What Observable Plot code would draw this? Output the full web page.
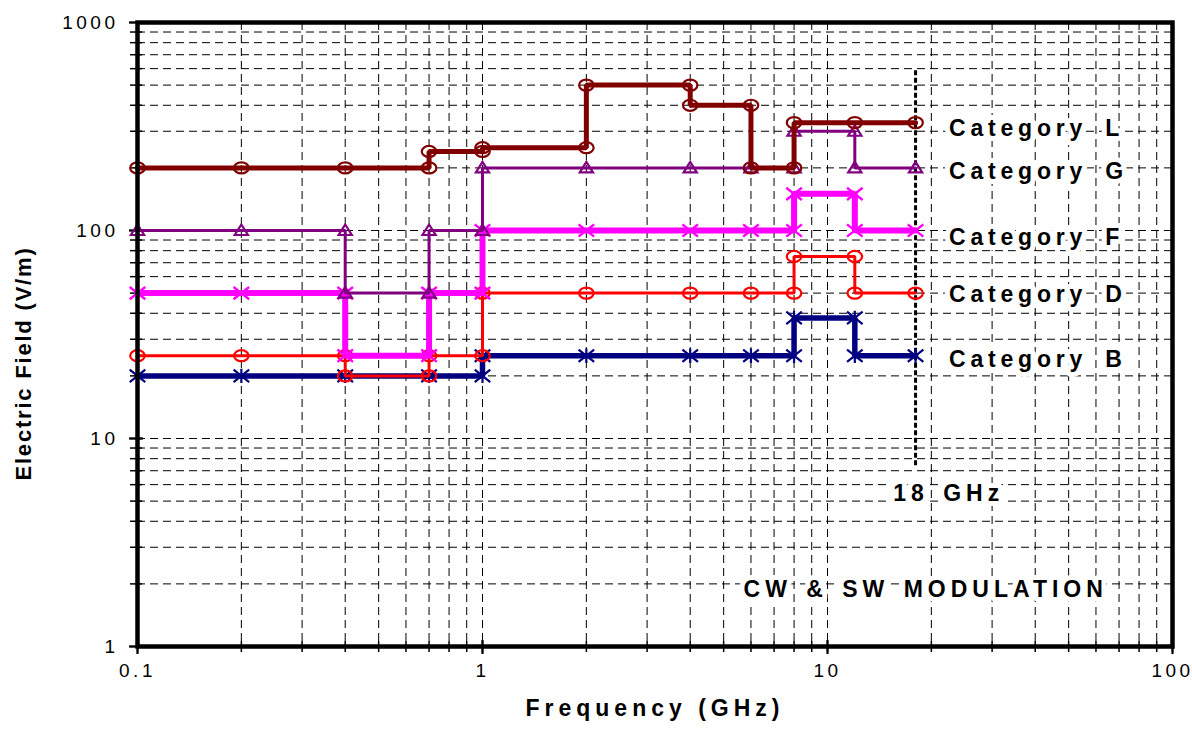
<!DOCTYPE html>
<html>
<head>
<meta charset="utf-8">
<script src="https://cdn.jsdelivr.net/npm/d3@7"></script>
<script src="https://cdn.jsdelivr.net/npm/@observablehq/plot@0.6"></script>
<style>
  body { margin: 0; background: #fff; }
  svg text { font-family: "Liberation Sans", Arial, sans-serif; }
</style>
</head>
<body>
<div id="chart"></div>
<script>
// ---- Data ----
const freqL  = [0.1, 0.2, 0.4, 0.7, 0.7, 1, 1, 2, 2, 4, 4, 6, 6, 8, 8, 12, 18];
const fieldL = [200, 200, 200, 200, 240, 240, 250, 250, 500, 500, 400, 400, 200, 200, 330, 330, 330];

const freqG  = [0.1, 0.2, 0.4, 0.4, 0.7, 0.7, 1, 1, 2, 4, 6, 8, 8, 12, 12, 18];
const fieldG = [100, 100, 100, 50, 50, 100, 100, 200, 200, 200, 200, 200, 300, 300, 200, 200];

const freqF  = [0.1, 0.2, 0.4, 0.4, 0.7, 0.7, 1, 1, 2, 4, 6, 8, 8, 12, 12, 18];
const fieldF = [50, 50, 50, 25, 25, 50, 50, 100, 100, 100, 100, 100, 150, 150, 100, 100];

const freqD  = [0.1, 0.2, 0.4, 0.4, 0.7, 0.7, 1, 1, 2, 4, 6, 8, 8, 12, 12, 18];
const fieldD = [25, 25, 25, 20, 20, 25, 25, 50, 50, 50, 50, 50, 75, 75, 50, 50];

const freqB  = [0.1, 0.2, 0.4, 0.7, 1, 1, 2, 4, 6, 8, 8, 12, 12, 18];
const fieldB = [20, 20, 20, 20, 20, 25, 25, 25, 25, 25, 38, 38, 25, 25];

const xTicks = [0.1, 1, 10, 100];
const xTickLabels = ["0.1", "1", "10", "100"];
const yTicks = [1, 10, 100, 1000];
const yTickLabels = ["1", "10", "100", "1000"];

const catNames = ["Category L", "Category G", "Category F", "Category D", "Category B"];
const catLabelX = [22.5, 22.5, 22.5, 22.5, 22.5];
const catLabelY = [308, 191, 92, 49, 24];

const limitFreq = 18;
const limitFieldRange = [7.4, 600];
const noteTexts = ["18 GHz", "CW & SW MODULATION"];
const noteX = [15.5, 5.71];
const noteY = [5.46, 1.87];

const xTitle = "Frequency (GHz)";
const yTitle = "Electric Field (V/m)";

// ---- Layout ----
const W = 1192, H = 729;
const mL = 137, mR = 20, mT = 22, mB = 83;
const plotW = W - mL - mR, plotH = H - mT - mB;

// ---- Marker symbols ----
const ellipse = {draw(ctx, size) {
  const r = Math.sqrt(size / Math.PI), rx = r * 1.12, ry = r * 0.85, k = 0.5523;
  ctx.moveTo(rx, 0);
  ctx.bezierCurveTo(rx, ry * k, rx * k, ry, 0, ry);
  ctx.bezierCurveTo(-rx * k, ry, -rx, ry * k, -rx, 0);
  ctx.bezierCurveTo(-rx, -ry * k, -rx * k, -ry, 0, -ry);
  ctx.bezierCurveTo(rx * k, -ry, rx, -ry * k, rx, 0);
  ctx.closePath();
}};
const triangle = {draw(ctx, size) {
  const r = Math.sqrt(size / Math.PI), w = r * 1.1, h = r * 1.0;
  ctx.moveTo(0, -h);
  ctx.lineTo(w, h * 0.75);
  ctx.lineTo(-w, h * 0.75);
  ctx.closePath();
}};
const times = {draw(ctx, size) {
  const r = Math.sqrt(size / Math.PI), a = r * 1.2, b = r * 0.95;
  ctx.moveTo(-a, -b); ctx.lineTo(a, b);
  ctx.moveTo(-a, b); ctx.lineTo(a, -b);
}};
const asterisk = {draw(ctx, size) {
  const r = Math.sqrt(size / Math.PI), a = r * 1.2, b = r * 0.95;
  ctx.moveTo(-a, -b); ctx.lineTo(a, b);
  ctx.moveTo(-a, b); ctx.lineTo(a, -b);
  ctx.moveTo(0, -r * 1.1); ctx.lineTo(0, r * 1.1);
}};

// draw order: bottom to top
const series = [
  {freq: freqB, field: fieldB, color: "#000080", width: 5.5, symbol: asterisk, r: 6.5, sw: 2.2},
  {freq: freqD, field: fieldD, color: "#ff0000", width: 3,   symbol: ellipse,  r: 6.5, sw: 2.2},
  {freq: freqF, field: fieldF, color: "#ff00ff", width: 6,   symbol: times,    r: 6.5, sw: 2.4},
  {freq: freqG, field: fieldG, color: "#800080", width: 3,   symbol: triangle, r: 6,   sw: 2.2},
  {freq: freqL, field: fieldL, color: "#800000", width: 5,   symbol: ellipse,  r: 6.5, sw: 2.2}
];

const xGrid = d3.scaleLog().domain([0.1, 100]).ticks();
const yGrid = d3.scaleLog().domain([1, 1000]).ticks();

const marks = [
  // gridlines
  Plot.ruleX(xGrid.filter(d => d > 0.1 && d < 100), {x: d => d, stroke: "black", strokeWidth: 1, strokeDasharray: "8,5"}),
  Plot.ruleY(yGrid.filter(d => d > 1 && d < 1000), {y: d => d, stroke: "black", strokeWidth: 1, strokeDasharray: "8,5"}),
  // tick marks crossing the axes
  Plot.ruleX(xGrid, {x: d => d, insetTop: plotH - 5, insetBottom: -6, stroke: "black", strokeWidth: 1.5}),
  Plot.ruleX(xTicks, {x: d => d, insetTop: plotH - 6, insetBottom: -8, stroke: "black", strokeWidth: 2.2}),
  Plot.ruleY(yGrid, {y: d => d, insetRight: plotW - 5, insetLeft: -7, stroke: "black", strokeWidth: 1.5}),
  Plot.ruleY(yTicks, {y: d => d, insetRight: plotW - 6, insetLeft: -8, stroke: "black", strokeWidth: 2.2}),
  // 18 GHz limit
  Plot.ruleX([limitFreq], {x: d => d, y1: limitFieldRange[0], y2: limitFieldRange[1], stroke: "black", strokeWidth: 3, strokeDasharray: "5,2.5"})
];

for (const s of series) {
  const rows = s.freq.map((f, i) => ({x: f, y: s.field[i]}));
  marks.push(Plot.line(rows, {x: "x", y: "y", stroke: s.color, strokeWidth: s.width, curve: "linear", strokeLinejoin: "miter"}));
  marks.push(Plot.dot(rows, {x: "x", y: "y", symbol: s.symbol, r: s.r, stroke: s.color, strokeWidth: s.sw, fill: "none"}));
}

const catRows = catNames.map((t, i) => ({text: t, x: catLabelX[i], y: catLabelY[i]}));
const noteRows = noteTexts.map((t, i) => ({text: t, x: noteX[i], y: noteY[i]}));
marks.push(
  Plot.text(catRows, {x: "x", y: "y", text: "text", textAnchor: "start", fontSize: 23, fontWeight: "bold", fill: "black", stroke: "white", strokeWidth: 10}),
  Plot.text(noteRows, {x: "x", y: "y", text: "text", textAnchor: "start", fontSize: 23, fontWeight: "bold", fill: "black", stroke: "white", strokeWidth: 10}),
  Plot.text(xTicks, {x: d => d, text: (d, i) => xTickLabels[i], frameAnchor: "bottom", textAnchor: "middle", dy: 30, fontSize: 19, fill: "black"}),
  Plot.text(yTicks, {y: d => d, text: (d, i) => yTickLabels[i], frameAnchor: "left", textAnchor: "end", dx: -19, fontSize: 19, fill: "black"}),
  Plot.text([xTitle], {frameAnchor: "bottom", textAnchor: "middle", dy: 69, fontSize: 23, fontWeight: "bold", fill: "black"}),
  Plot.text([yTitle], {frameAnchor: "left", textAnchor: "middle", dx: -114, dy: 29, rotate: -90, fontSize: 22, fontWeight: "bold", fill: "black"}),
  Plot.frame({stroke: "black", strokeWidth: 4.5})
);

const chart = Plot.plot({
  width: W, height: H,
  marginLeft: mL, marginRight: mR, marginTop: mT, marginBottom: mB,
  x: {type: "log", domain: [0.1, 100], axis: null},
  y: {type: "log", domain: [1, 1000], axis: null},
  style: {fontFamily: "Liberation Sans, Arial, sans-serif", background: "white", color: "black", overflow: "visible"},
  marks
});

// character spacing like the original (wide-tracked Excel text)
const spacing = new Map();
catNames.forEach(t => spacing.set(t, ["4.8px", "7px"]));
noteTexts.forEach(t => spacing.set(t, ["5px", "3px"]));
xTickLabels.concat(yTickLabels).forEach(t => spacing.set(t, ["3.5px", "0px"]));
spacing.set(xTitle, ["5px", "0px"]);
spacing.set(yTitle, ["1.8px", "0px"]);
d3.select(chart).selectAll("text").each(function() {
  const sp = spacing.get(this.textContent);
  if (sp) {
    this.style.letterSpacing = sp[0];
    this.style.wordSpacing = sp[1];
  }
});

document.getElementById("chart").appendChild(chart);
</script>
</body>
</html>
